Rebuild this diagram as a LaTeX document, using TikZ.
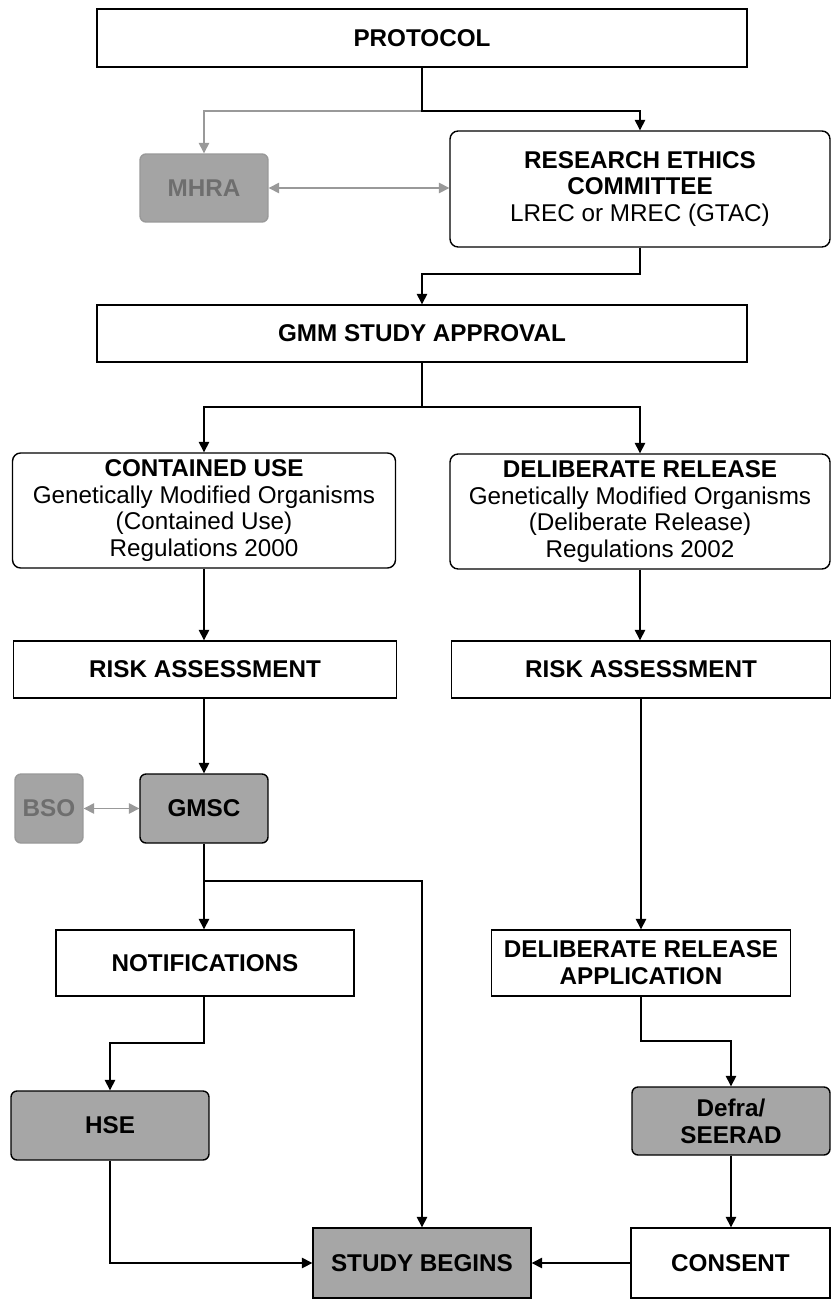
\documentclass[tikz,border=0pt]{standalone}
\usepackage{fontspec}
\setmainfont{Liberation Sans}
\usetikzlibrary{arrows.meta}
\definecolor{boxgray}{HTML}{A6A6A6}
\definecolor{palefill}{HTML}{A4A4A4}
\definecolor{paleline}{HTML}{999999}
\definecolor{paletext}{HTML}{6E6E6E}
\newcommand{\chartfont}{\fontsize{13.8}{15.3}\selectfont}

\begin{document}
\begin{tikzpicture}[x=0.02cm, y=-0.02cm,
		box/.style={draw=black, line width=0.8pt, fill=white, inner sep=0pt, align=center, font=\chartfont\bfseries},
		roundbox/.style={box, rounded corners=0.16cm},
		darkbox/.style={box, fill=boxgray},
		paleboxes/.style={box, rounded corners=0.12cm, draw=paleline, fill=palefill, text=paletext},
		flow/.style={line width=0.8pt, -{Triangle[length=6pt,width=6pt]}},
		paleflow/.style={line width=0.8pt, draw=paleline, {Triangle[length=6pt,width=6pt]}-{Triangle[length=6pt,width=6pt]}}]
			\useasboundingbox[fill=white] (0,0) rectangle (831,1300);
			\node[box, minimum width=13cm, minimum height=1.16cm] (protocol) at (422,38) {PROTOCOL};
			\node[paleboxes, minimum width=2.56cm, minimum height=1.36cm] (mhra) at (204,188) {MHRA};
			\node[roundbox, minimum width=7.6cm, minimum height=2.32cm] (rec) at (640,189) {RESEARCH ETHICS\\COMMITTEE\\{\mdseries LREC or MREC (GTAC)}};
			\node[box, minimum width=13cm, minimum height=1.14cm] (gmm) at (422,333.5) {GMM STUDY APPROVAL};
			\node[roundbox, minimum width=7.66cm, minimum height=2.3cm] (contained) at (204,510.5) {CONTAINED USE\\{\mdseries Genetically Modified Organisms}\\{\mdseries (Contained Use)}\\{\mdseries Regulations 2000}};
			\node[roundbox, minimum width=7.6cm, minimum height=2.3cm] (deliberate) at (640,511.5) {DELIBERATE RELEASE\\{\mdseries Genetically Modified Organisms}\\{\mdseries (Deliberate Release)}\\{\mdseries Regulations 2002}};
			\node[box, minimum width=7.66cm, minimum height=1.14cm] (riskleft) at (205,669.5) {RISK ASSESSMENT};
			\node[box, minimum width=7.58cm, minimum height=1.14cm] (riskright) at (641,669.5) {RISK ASSESSMENT};
			\node[darkbox, rounded corners=0.12cm, minimum width=2.56cm, minimum height=1.38cm] (gmsc) at (204,808.5) {GMSC};
			\node[paleboxes, minimum width=1.36cm, minimum height=1.38cm] (bso) at (49,808.5) {BSO};
			\node[box, minimum width=5.96cm, minimum height=1.32cm] (notif) at (205,963) {NOTIFICATIONS};
			\node[box, minimum width=5.98cm, minimum height=1.32cm] (release) at (641,963) {DELIBERATE RELEASE\\APPLICATION};
			\node[darkbox, rounded corners=0.12cm, minimum width=3.96cm, minimum height=1.38cm] (hse) at (110,1125.5) {HSE};
			\node[darkbox, rounded corners=0.12cm, minimum width=3.96cm, minimum height=1.36cm] (defra) at (731,1121) {Defra/\\SEERAD};
			\node[darkbox, minimum width=4.36cm, minimum height=1.4cm] (begins) at (422,1263) {STUDY BEGINS};
			\node[box, minimum width=3.98cm, minimum height=1.4cm] (consent) at (730.5,1263) {CONSENT};
			\coordinate (split1) at (422,111);
			\coordinate (split2) at (640,274);
			\coordinate (split3) at (422,407);
			\coordinate (split4) at (204,881);
			\coordinate (split5) at (204,1043);
			\coordinate (split6) at (641,1041);
			\draw[paleflow, -{Triangle[length=6pt,width=6pt]}] (split1) -| (mhra.north);
			\draw[flow] (protocol.south) -- (split1) -| (rec.north);
			\draw[paleflow] (mhra.east) -- (mhra.east -| rec.west);
			\draw[flow] (rec.south) -- (split2) -| (gmm.north);
			\draw[line width=0.8pt] (gmm.south) -- (split3);
			\draw[flow] (split3) -| (contained.north);
			\draw[flow] (split3) -| (deliberate.north);
			\draw[flow] (contained.south) -- (contained.south |- riskleft.north);
			\draw[flow] (deliberate.south) -- (deliberate.south |- riskright.north);
			\draw[flow] (riskleft.south -| gmsc.north) -- (gmsc.north);
			\draw[paleflow] (bso.east) -- (gmsc.west);
			\draw[flow] (gmsc.south) -- (gmsc.south |- notif.north);
			\draw[flow] (split4) -| (begins.north);
			\draw[flow] (notif.south -| split5) -- (split5) -| (hse.north);
			\draw[flow] (hse.south) |- (begins.west);
			\draw[flow] (riskright.south) -- (release.north);
			\draw[flow] (release.south) -- (split6) -| (defra.north);
			\draw[flow] (defra.south) -- (defra.south |- consent.north);
			\draw[flow] (consent.west) -- (begins.east);
		\end{tikzpicture}
\end{document}
